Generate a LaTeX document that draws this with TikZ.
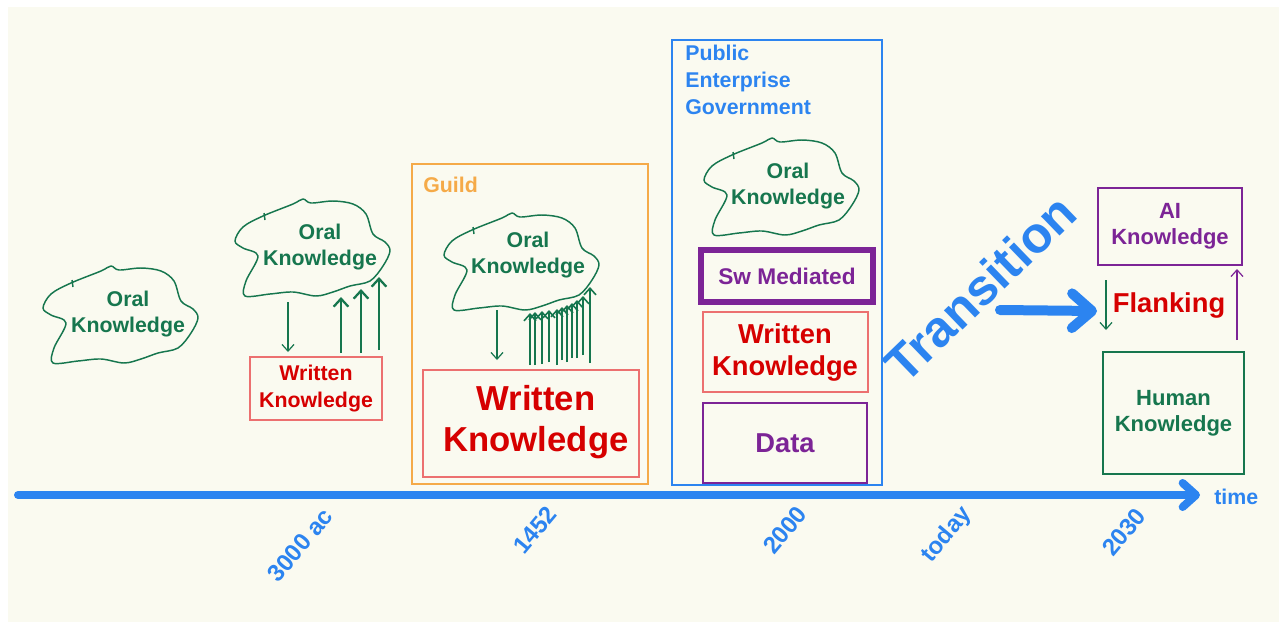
\documentclass[tikz,border=0pt]{standalone}
\usepackage{fontspec}
\setmainfont{Liberation Sans}
\usetikzlibrary{arrows.meta}
\definecolor{cream}{RGB}{250,250,240}
\definecolor{kgreen}{RGB}{22,118,78}
\definecolor{kred}{RGB}{214,0,0}
\definecolor{kredline}{RGB}{236,112,112}
\definecolor{kblue}{RGB}{44,132,240}
\definecolor{korange}{RGB}{245,170,72}
\definecolor{kpurple}{RGB}{124,36,150}
\newcommand\fz[2]{\fontsize{#1}{#2}\selectfont}
\begin{document}
\begin{tikzpicture}[x=0.75pt,y=-0.75pt,
  every node/.style={inner sep=0pt},
  cloudline/.style={draw=kgreen, line width=1.1pt, line join=round},
  oraltxt/.style={text=kgreen, align=center, font=\bfseries\fz{16}{20}},
  wbox/.style={draw=kredline, line width=1.5pt, text=kred, align=center},
  frame/.style={line width=1.1pt},
  datebl/.style={text=kblue, rotate=50, font=\bfseries\fz{18}{21}},
  thinarr/.style={draw=kgreen, line width=0.9pt, -{Straight Barb[length=5pt,width=9pt]}},
  thickarr/.style={draw=kgreen, line width=1.7pt, -{Straight Barb[length=6pt,width=11pt]}},
  midarr/.style={draw=kgreen, line width=1.2pt, -{Straight Barb[length=5pt,width=9pt]}},
  cloud/.pic={
    \draw[cloudline] plot[smooth cycle, tension=0.55] coordinates {
      (-76,-6) (-68,-20) (-48,-31) (-18,-43) (-8,-48) (0,-44) (22,-46) (42,-43)
      (55,-33) (62,-13) (74,-5) (79,4) (72,19) (59,34) (39,39) (22,45) (5,49)
      (-18,45) (-41,47) (-66,49) (-65,34) (-53,9) (-68,1)};
    \draw[cloudline] (-47,-34) -- (-46,-27);
  }
]
\useasboundingbox (0,0) rectangle (1286,626);
\fill[white] (0,0) rectangle (1286,626);
\fill[cream] (8,7) rectangle (1279,622);

% timeline
\coordinate (t0) at (18,495);
\coordinate (t1) at (1200,495);
\draw[kblue, line width=6pt, line cap=round, -{Straight Barb[length=10pt,width=18pt,round]}] (t0) -- (t1);
\node[text=kblue, font=\bfseries\fz{16}{19}, anchor=west] (time) at (1214,497) {time};

% date labels
\node[datebl] (d3000) at (300,545) {3000 ac};
\node[datebl] (d1452) at (535,530) {1452};
\node[datebl] (d2000) at (785,530) {2000};
\node[datebl] (dtoday) at (947,535) {today};
\node[datebl] (d2030) at (1124,532) {2030};

% era 1
\pic at (119,314) {cloud};
\node[oraltxt] (oral1) at (128,314) {Oral\\Knowledge};

% era 2
\pic at (311,247) {cloud};
\node[oraltxt] (oral2) at (320,247) {Oral\\Knowledge};
\node[wbox, minimum width=132*0.75pt, minimum height=63*0.75pt, font=\bfseries\fz{16}{20}] (wk1) at (316,388.5) {Written\\Knowledge};
\coordinate (a1s) at (288,302); \coordinate (a1e) at (288,352);
\draw[thinarr] (a1s) -- (a1e);
\coordinate (u1s) at (341,353); \coordinate (u1e) at (341,297);
\coordinate (u2s) at (361,353); \coordinate (u2e) at (361,289);
\coordinate (u3s) at (379,350); \coordinate (u3e) at (379,277);
\draw[thickarr] (u1s) -- (u1e);
\draw[thickarr] (u2s) -- (u2e);
\draw[thickarr] (u3s) -- (u3e);

% Guild
\node[frame, draw=korange, minimum width=236*0.75pt, minimum height=320*0.75pt] (guildframe) at (530,324) {};
\node[anchor=west, text=korange, font=\bfseries\fz{16}{19}] (guildlbl) at (423,185) {Guild};
\pic at (520,261) {cloud};
\node[oraltxt] (oral3) at (528,255) {Oral\\Knowledge};
\node[wbox, minimum width=216*0.75pt, minimum height=107*0.75pt] (wk2) at (531,423.5) {};
\node[text=kred, align=center, font=\bfseries\fz{26}{31}] (wk2t) at (536,422) {Written\\Knowledge};
\coordinate (g1s) at (497,310); \coordinate (g1e) at (497,360);
\draw[thinarr] (g1s) -- (g1e);
\foreach \x/\t/\b [count=\i] in {530/313/365, 535/312/365, 542/311/364, 549/310/362, 557/309/365, 562/307/360, 567/305/362, 572/303/358, 577/300/358, 583/296/355, 590/287/363} {
  \coordinate (gu\i s) at (\x,\b);
  \coordinate (gu\i e) at (\x,\t);
  \draw[midarr] (gu\i s) -- (gu\i e);
}

% Public / Enterprise / Government
\node[frame, draw=kblue, minimum width=210*0.75pt, minimum height=445*0.75pt] (pubframe) at (777,262.5) {};
\node[anchor=west, align=left, text=kblue, font=\bfseries\fz{16}{20}] (publbl) at (685,80) {Public\\Enterprise\\Government};
\pic at (780,186) {cloud};
\node[oraltxt] (oral4) at (788,186) {Oral\\Knowledge};
\node[draw=kpurple, line width=4.5pt, minimum width=172*0.75pt, minimum height=52*0.75pt, text=kpurple, font=\bfseries\fz{17}{20}] (sw) at (787,276) {Sw Mediated};
\node[wbox, minimum width=165*0.75pt, minimum height=80*0.75pt, font=\bfseries\fz{20.5}{24}] (wk3) at (785,352) {Written\\Knowledge};
\node[draw=kpurple, line width=1.1pt, minimum width=164*0.75pt, minimum height=80*0.75pt, text=kpurple, font=\bfseries\fz{20.5}{24}] (data) at (785,443) {Data};

% Transition
\node[rotate=44, text=kblue, font=\bfseries\fz{38}{40}] (trans) at (980,288) {Transition};
\coordinate (ta) at (1000,310);
\coordinate (tb) at (1097,311);
\draw[kblue, line width=7.5pt, line cap=round, -{Straight Barb[length=15pt,width=26pt,round]}] (ta) -- (tb);

% Future
\node[draw=kpurple, line width=1.1pt, minimum width=144*0.75pt, minimum height=77*0.75pt, text=kpurple, align=center, font=\bfseries\fz{16.5}{19.5}] (ai) at (1170,226.5) {AI\\Knowledge};
\node[draw=kgreen, line width=1.1pt, minimum width=141*0.75pt, minimum height=122*0.75pt, text=kgreen, align=center, font=\bfseries\fz{16.5}{19.5}] (human) at (1173.5,413) {Human\\Knowledge};
\node[text=kred, font=\bfseries\fz{20.5}{24}] (flank) at (1169,305) {Flanking};
\coordinate (fds) at (1106,280); \coordinate (fde) at (1106,330);
\draw[thinarr] (fds) -- (fde);
\coordinate (fus) at (1237,340); \coordinate (fue) at (1237,269);
\draw[draw=kpurple, line width=0.9pt, -{Straight Barb[length=5pt,width=9pt]}] (fus) -- (fue);
\end{tikzpicture}
\end{document}
